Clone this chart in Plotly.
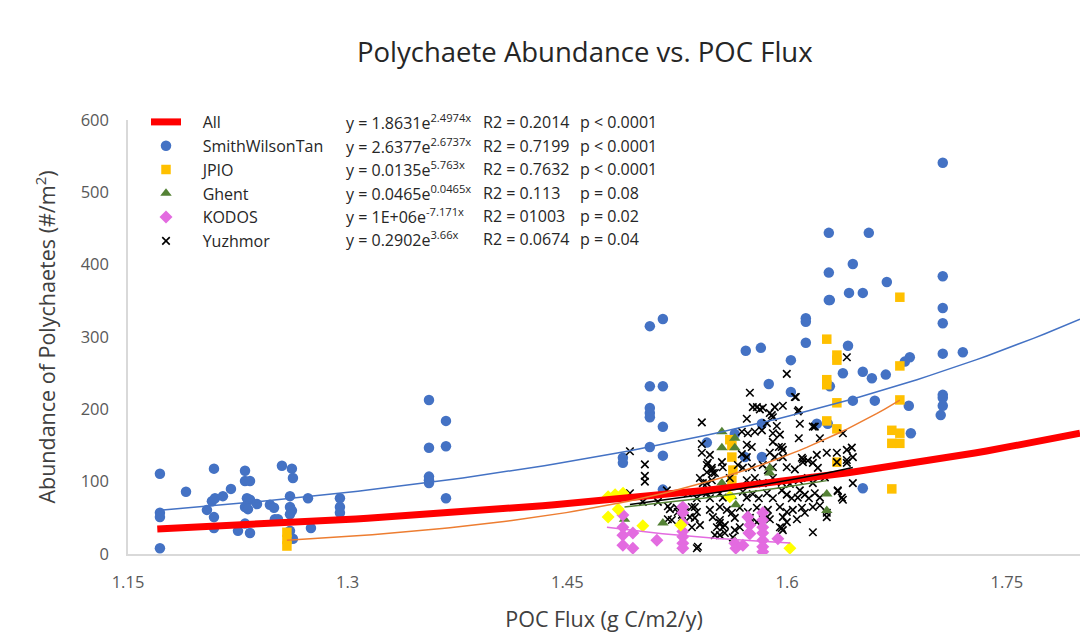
import numpy as np
import plotly.graph_objects as go

# ---------------- data ----------------
swt = [(1.1718,111),(1.1718,57),(1.1718,51),(1.1718,8),(1.1896,86),(1.2087,118),(1.2073,73),(1.2094,77),
       (1.2039,61),(1.2087,51),(1.2087,36),(1.2148,80),(1.2203,90),(1.2299,115),(1.2299,101),(1.2333,101),
       (1.2312,77),(1.2333,75),(1.2299,65),(1.2319,62),(1.2381,69),(1.2251,32),(1.2299,42),(1.2333,29),
       (1.2469,68),(1.2497,64),(1.2503,48),(1.2524,48),(1.2551,122),(1.2619,118),(1.2626,105),(1.2606,80),
       (1.2606,65),(1.2619,60),(1.2606,55),(1.2606,32),(1.2626,21),(1.2729,77),(1.2749,36),(1.2947,77),
       (1.2947,65),(1.2947,57),
       (1.3555,213),(1.3671,184),(1.3555,147),(1.3671,149),(1.3555,107),(1.3555,102),(1.3555,98),(1.3671,77),
       (1.5063,315),(1.5152,325),(1.5063,232),(1.5152,232),(1.5063,202),(1.5063,195),(1.5063,189),(1.5152,176),
       (1.5063,148),(1.5152,136),(1.4879,133),(1.4879,126),(1.5152,89),(1.5452,154),
       (1.6681,376),(1.6292,351),(1.6423,361),(1.6517,361),(1.6128,326),(1.6128,321),(1.5718,281),(1.5821,285),
       (1.6128,292),(1.6416,288),(1.6026,268),(1.5875,235),(1.6026,224),(1.6381,250),(1.6517,252),(1.6579,243),
       (1.6674,248),(1.6292,232),(1.6449,212),(1.6599,212),(1.6203,180),(1.6278,180),(1.5828,180),(1.5643,166),
       (1.5712,134),(1.5828,134),(1.6517,91),
       (1.7063,541),(1.6285,444),(1.6558,444),(1.6449,401),(1.6285,389),(1.7063,384),(1.6285,351),(1.7063,340),
       (1.7063,319),(1.6838,272),(1.6804,266),(1.7063,277),(1.7200,279),(1.6831,205),(1.7063,220),(1.7063,216),
       (1.7063,205),(1.7049,192),(1.6845,167)]

jpio = [(1.2585,30),(1.2585,20),(1.2585,11),
        (1.5609,158),(1.5623,150),(1.5623,134),(1.5630,116),(1.5623,102),
        (1.6271,297),(1.6271,241),(1.6271,234),(1.6271,184),
        (1.6340,275),(1.6340,268),(1.6340,209),(1.6340,173),(1.6340,127),
        (1.6715,171),(1.6715,153),(1.6715,90),
        (1.6770,355),(1.6770,260),(1.6770,213),(1.6770,167),(1.6770,153)]

ghent = [(1.4890,48),(1.5152,43),(1.5555,169),(1.5555,147),(1.5555,98),(1.5643,160),(1.5643,147),
         (1.5623,79),(1.5650,68),(1.5643,18),(1.5882,119),(1.5882,112),(1.6271,83),(1.6271,60)]

kodos = [(1.4879,54),(1.4879,37),(1.4879,26),(1.4879,12),(1.4947,29),(1.4947,8),(1.5111,19),
         (1.5288,65),(1.5288,57),(1.5288,43),(1.5288,31),(1.5288,24),(1.5288,15),(1.5288,8),
         (1.5643,15),(1.5650,8),(1.5698,12),(1.5732,51),(1.5746,40),(1.5739,29),(1.5746,28),
         (1.5834,57),(1.5834,47),(1.5834,37),(1.5834,29),(1.5834,19),(1.5834,10),(1.5834,3),(1.5937,21)]

yuzhmor = [(1.5418,182),(1.4927,142),(1.5418,152),(1.5418,140),(1.5029,124),(1.5029,108),(1.5029,100),(1.4927,84),
    (1.5452,98),(1.5459,126),(1.5486,116),(1.5507,112),(1.5555,127),(1.5561,120),(1.5200,62),(1.5254,58),
    (1.5282,54),(1.5370,65),(1.5473,61),(1.5370,50),(1.5186,48),(1.5405,40),(1.5561,37),(1.5391,10),
    (1.5118,72),(1.5015,72),
    (1.5746,223),(1.6053,217),(1.5794,203),(1.5834,202),(1.5882,195),(1.5916,203),(1.5971,205),(1.5725,187),
    (1.5862,181),(1.5903,189),(1.6073,197),(1.6087,180),(1.6176,176),(1.5691,169),(1.5732,167),(1.5780,169),
    (1.5828,171),(1.5903,167),(1.5951,165),(1.6080,160),(1.5725,151),(1.5759,148),(1.5903,155),(1.5944,148),
    (1.5971,144),(1.5473,137),(1.5691,138),(1.5725,134),(1.5882,140),(1.5916,134),(1.5971,134),(1.6108,131),
    (1.6142,129),(1.6203,137),(1.6340,140),(1.6408,144),
    (1.5452,123),(1.5486,119),(1.5452,113),(1.5493,112),(1.5664,123),(1.5698,119),(1.5759,120),(1.5834,123),
    (1.5869,116),(1.5903,120),(1.5998,120),(1.6053,117),(1.6108,127),(1.6176,126),(1.6210,119),(1.6340,127),
    (1.6408,126),
    (1.5405,105),(1.5425,98),(1.5486,102),(1.5609,105),(1.5725,102),(1.5780,105),(1.5834,98),(1.5903,105),
    (1.5964,99),(1.6019,97),(1.6080,102),(1.6142,105),(1.6176,98),(1.6258,106),
    (1.5179,88),(1.5323,84),(1.5384,77),(1.5452,84),(1.5473,77),(1.5541,84),(1.5561,78),(1.5698,86),
    (1.5725,78),(1.5766,83),(1.5807,77),(1.5862,84),(1.5903,77),(1.5964,88),(1.5998,82),(1.6032,77),
    (1.6087,88),(1.6121,82),(1.6149,77),(1.6189,84),(1.6224,78),(1.6346,88),(1.6374,78),
    (1.5186,66),(1.5247,64),(1.5302,58),(1.5350,65),(1.5384,58),(1.5541,65),(1.5589,61),(1.5623,57),
    (1.5677,64),(1.5732,58),(1.5794,64),(1.5834,57),(1.5869,61),(1.5951,65),(1.5998,58),(1.6039,61),
    (1.6101,64),(1.6121,57),(1.6224,67),
    (1.5213,47),(1.5282,50),(1.5336,51),(1.5493,51),(1.5541,47),(1.5643,50),(1.5746,50),(1.5794,44),
    (1.5862,51),(1.5971,51),(1.5998,44),(1.6067,48),
    (1.5350,37),(1.5521,37),(1.5575,40),(1.5575,29),(1.5541,26),(1.5677,37),(1.5951,37),(1.5971,33),
    (1.6176,30),(1.5507,26),(1.5384,8),(1.5630,23),
    (1.6408,272),(1.5998,249),(1.6060,217),(1.5766,203),(1.5814,200),(1.6080,199),(1.5896,192),(1.6189,176),
    (1.5930,177),(1.5964,148),(1.6224,160),(1.6381,167),(1.6442,147),(1.6271,140),(1.6449,134),(1.6408,130),
    (1.6101,133),(1.6449,98),(1.6346,87),(1.6381,75),(1.6271,57),(1.6271,51),(1.6176,65),(1.5964,36),
    (1.6073,78),(1.5882,48),(1.5643,33),(1.5541,43)]

other = [(1.4778,79),(1.4826,82),(1.4880,84),(1.4847,62),(1.4778,51),(1.5015,39),(1.5274,40),(1.5609,79),(1.6019,8)]

# trendline equations y = a * exp(b x) as printed in the legend
trend_names = ["All", "SmithWilsonTan", "JPIO", "KODOS", "Yuzhmor"]
trend_a = [1.8631, 2.6377, 0.0135, 1.47e6, 0.2902]
trend_b = [2.4974, 2.6737, 5.763, -7.171, 3.66]
trend_x0 = [1.17, 1.1718, 1.2585, 1.477, 1.4927]
trend_x1 = [1.80, 1.80, 1.677, 1.602, 1.6449]

legend_rows = [
    ("y = 1.8631e<sup>2.4974x</sup>", "R2 = 0.2014", "p &lt; 0.0001"),
    ("y = 2.6377e<sup>2.6737x</sup>", "R2 = 0.7199", "p &lt; 0.0001"),
    ("y = 0.0135e<sup>5.763x</sup>", "R2 = 0.7632", "p &lt; 0.0001"),
    ("y = 0.0465e<sup>0.0465x</sup>", "R2 = 0.113", "p = 0.08"),
    ("y = 1E+06e<sup>-7.171x</sup>", "R2 = 01003", "p = 0.02"),
    ("y = 0.2902e<sup>3.66x</sup>", "R2 = 0.0674", "p = 0.04"),
]

x_ticks = [1.15, 1.3, 1.45, 1.6, 1.75]
x_tick_text = ["1.15", "1.3", "1.45", "1.6", "1.75"]
y_ticks = [0, 100, 200, 300, 400, 500, 600]

# ---------------- figure ----------------
FONT = "Open Sans"
NB = "\u00a0" * 4
fig = go.Figure()

def xy(pairs):
    return [p[0] for p in pairs], [p[1] for p in pairs]

sx, sy = xy(swt)
fig.add_trace(go.Scatter(x=sx, y=sy, mode="markers", name=NB + "SmithWilsonTan", legendrank=2,
                         marker=dict(symbol="circle", size=10.5, color="#4472C4")))
jx, jy = xy(jpio)
fig.add_trace(go.Scatter(x=jx, y=jy, mode="markers", name=NB + "JPIO", legendrank=3,
                         marker=dict(symbol="square", size=9.5, color="#FFC000")))
yx, yy = xy(yuzhmor)
fig.add_trace(go.Scatter(x=yx, y=yy, mode="markers", name=NB + "Yuzhmor", legendrank=6,
                         marker=dict(symbol="x-thin", size=7.5, color="#000000",
                                     line=dict(width=1.6, color="#000000"))))
gx, gy = xy(ghent)
fig.add_trace(go.Scatter(x=gx, y=gy, mode="markers", name=NB + "Ghent", legendrank=4,
                         marker=dict(symbol="triangle-up", size=10, color="#548235")))
kx, ky = xy(kodos)
fig.add_trace(go.Scatter(x=kx, y=ky, mode="markers", name=NB + "KODOS", legendrank=5,
                         marker=dict(symbol="diamond", size=10, color="#E36BE0")))
ox, oy = xy(other)
fig.add_trace(go.Scatter(x=ox, y=oy, mode="markers", showlegend=False,
                         marker=dict(symbol="diamond", size=10, color="#FFFF00")))

trend_colors = ["#FF0000", "#4472C4", "#ED7D31", "#E36BE0", "#000000"]
trend_widths = [7, 1.5, 1.5, 1.5, 1.5]
for i, nm in enumerate(trend_names):
    xs = np.linspace(trend_x0[i], trend_x1[i], 80)
    ys = trend_a[i] * np.exp(trend_b[i] * xs)
    fig.add_trace(go.Scatter(x=xs, y=ys, mode="lines", name=(NB + "All") if nm == "All" else nm + " trend",
                             showlegend=(nm == "All"), legendrank=1,
                             line=dict(color=trend_colors[i], width=trend_widths[i])))

# Ghent trend: exponential least-squares fit of its points
gb, gl = np.polyfit(np.array(gx), np.log(np.array(gy)), 1)
gxs = np.linspace(min(gx), max(gx), 60)
fig.add_trace(go.Scatter(x=gxs, y=np.exp(gl) * np.exp(gb * gxs), mode="lines", showlegend=False,
                         line=dict(color="#548235", width=1.5)))

# equation annotations next to legend rows
row_y0, row_dy = 122, 23.5
for i, (eq, r2, p) in enumerate(legend_rows):
    ypix = row_y0 + i * row_dy
    yp = (554 - ypix) / 434
    for txt, xpix in ((eq, 344), (r2, 481), (p, 578)):
        fig.add_annotation(x=(xpix - 128) / 952, y=yp, xref="paper", yref="paper", text=txt,
                           showarrow=False, xanchor="left", yanchor="middle",
                           font=dict(family=FONT, size=16, color="#262626"))

fig.update_layout(
    width=1091, height=641,
    margin=dict(l=128, r=11, t=120, b=87),
    paper_bgcolor="white", plot_bgcolor="white",
    font=dict(family=FONT, color="#595959"),
    title=dict(text="Polychaete Abundance vs. POC Flux", x=0.536, xref="container", xanchor="center",
               y=1 - 52 / 641, yref="container", yanchor="middle",
               font=dict(family=FONT, size=27.5, color="#262626")),
    legend=dict(x=(146 - 128) / 952, y=(554 - 105) / 434, xanchor="left", yanchor="top",
                bgcolor="rgba(0,0,0,0)", font=dict(family=FONT, size=16, color="#262626"),
                tracegroupgap=0),
    showlegend=True,
)
fig.update_xaxes(range=[1.15, 1.8], tickvals=x_ticks, ticktext=x_tick_text, showgrid=False, zeroline=False,
                 showline=True, linecolor="#D9D9D9", linewidth=1.5, ticks="",
                 tickfont=dict(family=FONT, size=16.5, color="#595959"), ticklabelstandoff=12,
                 title=dict(text="POC Flux (g C/m2/y)", standoff=20,
                            font=dict(family=FONT, size=21.5, color="#404040")))
fig.update_yaxes(range=[0, 600], tickvals=y_ticks, showgrid=False, zeroline=False,
                 showline=True, linecolor="#D9D9D9", linewidth=1.5, ticks="",
                 tickfont=dict(family=FONT, size=16.5, color="#595959"), ticklabelstandoff=14,
                 title=dict(text="Abundance of Polychaetes (#/m<sup>2</sup>)", standoff=19,
                            font=dict(family=FONT, size=21.5, color="#404040")))

fig.write_html("out.html")
